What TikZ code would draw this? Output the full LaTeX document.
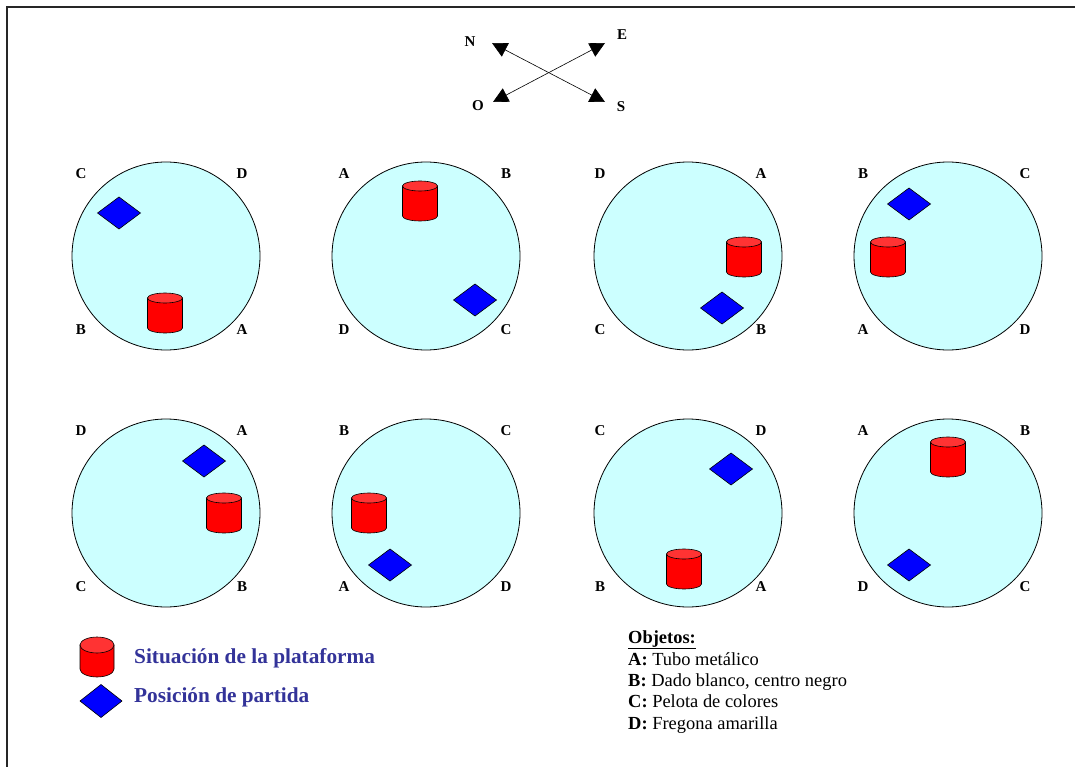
\documentclass[tikz,border=0pt]{standalone}
\usepackage{fontspec}
\setmainfont{Liberation Serif}
\usetikzlibrary{arrows.meta}
\definecolor{platecol}{HTML}{CCFFFF}
\definecolor{cylred}{HTML}{FF0000}
\definecolor{cyltopred}{HTML}{FF3333}
\definecolor{diablue}{HTML}{0000FF}
\definecolor{legtext}{HTML}{333399}
\newcommand{\platf}[5]{%
  \filldraw[cylbody] (#1-#4,#2) -- (#1-#4,#3) arc[start angle=180,end angle=360,x radius=#4pt,y radius=#5pt] -- (#1+#4,#2) -- cycle;
  \filldraw[cyltop] (#1,#2) ellipse[x radius=#4pt,y radius=#5pt];
}
\newcommand{\startpos}[4]{%
  \filldraw[startdia] (#1-#3,#2) -- (#1,#2-#4) -- (#1+#3,#2) -- (#1,#2+#4) -- cycle;
}
\tikzset{
  plate/.style={circle,draw=black,line width=0.8pt,fill=platecol,minimum size=188pt,inner sep=0pt},
  cylbody/.style={fill=cylred,draw=black,line width=0.6pt},
  cyltop/.style={fill=cyltopred,draw=black,line width=0.6pt},
  startdia/.style={fill=diablue,draw=black,line width=0.6pt},
  corner/.style={font=\fontsize{15}{18}\selectfont\bfseries,inner sep=0pt},
  compass/.style={font=\fontsize{15}{18}\selectfont\bfseries,inner sep=0pt},
  dirline/.style={draw=black,line width=0.6pt,{Triangle[length=15pt,width=15pt]}-{Triangle[length=15pt,width=15pt]}},
  legend/.style={font=\fontsize{21.3}{25}\selectfont\bfseries,text=legtext,anchor=base west,inner sep=0pt},
  objline/.style={font=\fontsize{18.45}{21}\selectfont,anchor=base west,inner sep=0pt},
  frame/.style={draw=black!85,line width=1.1pt}
}
\begin{document}
\begin{tikzpicture}[x=1pt,y=-1pt]
\useasboundingbox (0,0) rectangle (1075,767);
\fill[white] (0,0) rectangle (1075,767);
% frame
\coordinate (fl) at (7,767);
\coordinate (fc) at (7,7);
\coordinate (fr) at (1075,7);
\draw[frame] (fl) -- (fc) -- (fr);
% compass
\coordinate (cn) at (492,43);
\coordinate (cs) at (605,102);
\coordinate (co) at (493,102);
\coordinate (ce) at (605,43);
\draw[dirline] (cn) -- (cs);
\draw[dirline] (co) -- (ce);
\node[compass] (lN) at (470,42) {N};
\node[compass] (lE) at (622,35) {E};
\node[compass] (lO) at (478,106) {O};
\node[compass] (lS) at (621,107) {S};
% plates row 1
\node[plate] (p1) at (166,256) {};
\node[plate] (p2) at (426,256) {};
\node[plate] (p3) at (688,256) {};
\node[plate] (p4) at (948,256) {};
% plates row 2
\node[plate] (p5) at (166,513) {};
\node[plate] (p6) at (426,513) {};
\node[plate] (p7) at (688,513) {};
\node[plate] (p8) at (948,513) {};
% corner labels row 1
\node[corner] (p1tl) at (81,174) {C};  \node[corner] (p1tr) at (242,174) {D};
\node[corner] (p1bl) at (81,330) {B};  \node[corner] (p1br) at (242,330) {A};
\node[corner] (p2tl) at (344,174) {A}; \node[corner] (p2tr) at (506,174) {B};
\node[corner] (p2bl) at (344,330) {D}; \node[corner] (p2br) at (506,330) {C};
\node[corner] (p3tl) at (600,174) {D}; \node[corner] (p3tr) at (761,174) {A};
\node[corner] (p3bl) at (600,330) {C}; \node[corner] (p3br) at (761,330) {B};
\node[corner] (p4tl) at (863,174) {B}; \node[corner] (p4tr) at (1025,174) {C};
\node[corner] (p4bl) at (863,330) {A}; \node[corner] (p4br) at (1025,330) {D};
% corner labels row 2
\node[corner] (p5tl) at (81,431) {D};  \node[corner] (p5tr) at (242,431) {A};
\node[corner] (p5bl) at (81,587) {C};  \node[corner] (p5br) at (242,587) {B};
\node[corner] (p6tl) at (344,431) {B}; \node[corner] (p6tr) at (506,431) {C};
\node[corner] (p6bl) at (344,587) {A}; \node[corner] (p6br) at (506,587) {D};
\node[corner] (p7tl) at (600,431) {C}; \node[corner] (p7tr) at (761,431) {D};
\node[corner] (p7bl) at (600,587) {B}; \node[corner] (p7br) at (761,587) {A};
\node[corner] (p8tl) at (863,431) {A}; \node[corner] (p8tr) at (1025,431) {B};
\node[corner] (p8bl) at (863,587) {D}; \node[corner] (p8br) at (1025,587) {C};
% platforms and start positions
\platf{165}{298}{328}{17.5}{5}   \startpos{119}{213}{21.5}{16}
\platf{420}{186}{216}{17.5}{5}   \startpos{475}{300}{21.5}{16}
\platf{744}{242}{272}{17.5}{5}   \startpos{722}{308}{21.5}{16}
\platf{888}{242}{272}{17.5}{5}   \startpos{909}{204}{21.5}{16}
\platf{224}{498}{528}{17.5}{5}   \startpos{204}{461}{21.5}{16}
\platf{369}{498}{528}{17.5}{5}   \startpos{390}{565}{21.5}{16}
\platf{684}{554}{584}{17.5}{5}   \startpos{731}{469}{21.5}{16}
\platf{948}{442}{472}{17.5}{5}   \startpos{909}{565}{21.5}{16}
% legend
\platf{97}{645}{669}{17}{8}
\startpos{101}{701}{21}{16.5}
\node[legend] (lg1) at (134,663) {Situación de la plataforma};
\node[legend] (lg2) at (134,702) {Posición de partida};
% objects
\node[objline] (ob0) at (628,643) {\textbf{\underline{Objetos:}}};
\node[objline] (ob1) at (628,665.5) {\textbf{A:} Tubo metálico};
\node[objline] (ob2) at (628,686.8) {\textbf{B:} Dado blanco, centro negro};
\node[objline] (ob3) at (628,707.8) {\textbf{C:} Pelota de colores};
\node[objline] (ob4) at (628,729) {\textbf{D:} Fregona amarilla};
\end{tikzpicture}
\end{document}
